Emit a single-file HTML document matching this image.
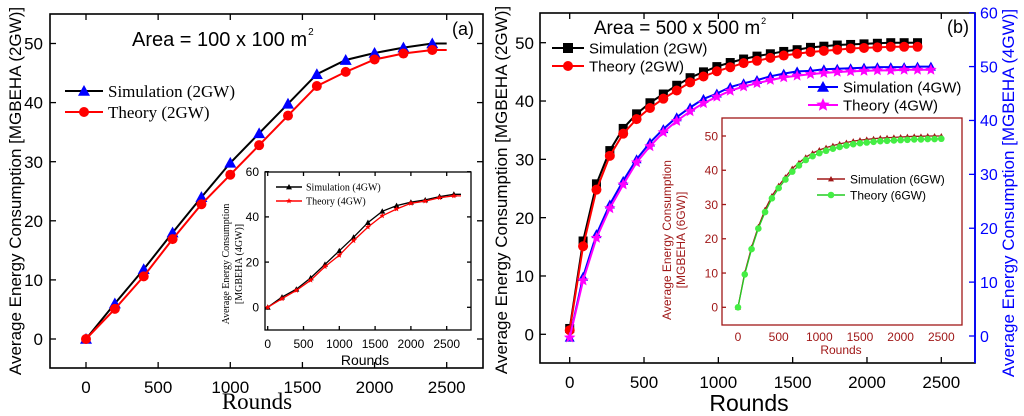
<!DOCTYPE html>
<html><head><meta charset="utf-8"><style>
body{margin:0;background:#fff}
svg{display:block}
text{font-family:"Liberation Sans",sans-serif}
.serif{font-family:"Liberation Serif",serif}
</style></head><body>
<svg id="chart" width="1024" height="416" viewBox="0 0 1024 416" xmlns="http://www.w3.org/2000/svg"></svg>
<script>
// ---- Panel (a) main data ----
const aRounds = [0,200,400,600,800,1000,1200,1400,1600,1800,2000,2200,2400];
const aSim2 = [0,6,11.8,18,24,29.8,34.8,39.8,44.8,47.2,48.4,49.3,50];
const aThe2 = [0,5.1,10.6,16.9,22.8,27.8,32.8,37.8,42.8,45.2,47.3,48.3,48.9];
const aXTicks = [0,500,1000,1500,2000,2500];
const aYTicks = [0,10,20,30,40,50];
// ---- Panel (a) inset data ----
const aiRounds = [0,200,400,600,800,1000,1200,1400,1600,1800,2000,2200,2400,2600];
const aiSim4 = [0,4.5,8,13,19,25,31,37.5,42.5,45,46.5,47.5,49,50];
const aiThe4 = [0,3.8,7.5,12,18,23,29.5,35.5,40.5,43.5,46,47,48.5,49.3];
const aiYTicks = [0,20,40,60];
// ---- Panel (b) main data ----
const bRounds2 = [0,90,180,270,360,450,540,630,720,810,900,990,1080,1170,1260,1350,1440,1530,1620,1710,1800,1890,1980,2070,2160,2250,2340];
const bSim2 = [1,16,25.8,31.5,35.3,37.8,39.7,41.2,42.7,44,45,45.9,46.6,47.2,47.7,48.1,48.5,48.8,49.2,49.4,49.6,49.7,49.8,49.9,50,50,50];
const bThe2 = [0.7,15.1,24.8,30.6,34.4,36.9,38.8,40.4,41.8,43.2,44.2,45.1,45.8,46.5,46.9,47.4,47.8,48.1,48.4,48.6,48.8,49,49.1,49.2,49.3,49.3,49.3];
const bRounds4 = [0,90,180,270,360,450,540,630,720,810,900,990,1080,1170,1260,1350,1440,1530,1620,1710,1800,1890,1980,2070,2160,2250,2340,2430];
const bSim4 = [-0.3,11,18.9,24.4,28.8,32.8,35.9,38.4,40.6,42.4,44,45,46.2,46.9,47.5,48.2,48.7,49.1,49.2,49.5,49.6,49.7,49.8,49.9,49.9,49.9,50,50];
const bThe4 = [-0.3,10.3,18.2,23.7,28.1,32.2,35.2,37.8,39.9,41.7,43.2,44.4,45.5,46.3,46.9,47.5,48,48.3,48.6,48.8,49,49.1,49.2,49.3,49.3,49.4,49.4,49.4];
const bRightTicks = [0,10,20,30,40,50,60];
// ---- Panel (b) inset data ----
const biRounds = [0,83,167,250,333,417,500,583,667,750,833,917,1000,1083,1167,1250,1333,1417,1500,1583,1667,1750,1833,1917,2000,2083,2167,2250,2333,2417,2500];
const biSim6 = [0,10,17.5,23.5,28.5,32.5,35.5,38,40.5,42.2,43.8,45,45.9,46.6,47.2,47.7,48.1,48.5,48.8,49,49.2,49.4,49.5,49.6,49.7,49.8,49.9,49.9,50,50,50];
const biThe6 = [0,9.6,17,23,27.8,31.8,34.8,37.3,39.6,41.4,43,44.1,45,45.7,46.3,46.8,47.2,47.6,47.9,48.1,48.3,48.5,48.6,48.7,48.8,48.9,49,49,49.1,49.1,49.2];
const biYTicks = [0,10,20,30,40,50];

const svg = document.getElementById('chart');
const NS = 'http://www.w3.org/2000/svg';
function mk(tag, attrs, parent, txt){
  const e = document.createElementNS(NS, tag);
  for (const k in attrs) e.setAttribute(k, attrs[k]);
  if (txt !== undefined) e.textContent = txt;
  (parent||svg).appendChild(e);
  return e;
}
function lin(d0,d1,r0,r1){return v=>r0+(v-d0)*(r1-r0)/(d1-d0);}

function marker(g, type, x, y, color, s){
  let e;
  if (type==='tri') e = mk('polygon',{points:`${x},${y-s} ${x-s},${y+s*0.8} ${x+s},${y+s*0.8}`,fill:color},g);
  else if (type==='circ') e = mk('circle',{cx:x,cy:y,r:s,fill:color},g);
  else if (type==='sq') e = mk('rect',{x:x-s,y:y-s,width:2*s,height:2*s,fill:color},g);
  else if (type==='star'){
    let p=[];for(let i=0;i<10;i++){const r=i%2?s*0.45:s;const a=-Math.PI/2+i*Math.PI/5;p.push((x+r*Math.cos(a)).toFixed(1)+','+(y+r*Math.sin(a)).toFixed(1));}
    e = mk('polygon',{points:p.join(' '),fill:color},g);
  }
  
  
}
function series(name, xs, ys, sx, sy, lineColor, mType, mColor, ms, lw, extendTo){
  const g = mk('g',{});
  
  
  let pts = xs.map((v,i)=>sx(v).toFixed(1)+','+sy(ys[i]).toFixed(1));
  if (extendTo!==undefined) pts.push(sx(extendTo).toFixed(1)+','+sy(ys[ys.length-1]).toFixed(1));
  const l = mk('polyline',{points:pts.join(' '),fill:'none',stroke:lineColor,'stroke-width':lw},g);
  
  
  xs.forEach((v,i)=>marker(g,mType,sx(v),sy(ys[i]),mColor,ms));
}
function frame(x0,y0,x1,y1,color,w,name){
  const r = mk('rect',{x:x0,y:y0,width:x1-x0,height:y1-y0,fill:'#fff',stroke:color,'stroke-width':w});
  
  
}
function xAxis(ticks, sx, yb, ytop, ly, fs, color, cls, name, tl){
  const g = mk('g',{});
  
  
  ticks.forEach(t=>{
    const x = sx(t);
    mk('line',{x1:x,y1:yb,x2:x,y2:yb-tl,stroke:color,'stroke-width':1.3},g);
    mk('line',{x1:x,y1:ytop,x2:x,y2:ytop+tl,stroke:color,'stroke-width':1.3},g);
    const lb = mk('text',{x:x,y:ly,'font-size':fs,'text-anchor':'middle',fill:color,class:cls||''},g,t);
    
    
  });
}
function yAxis(ticks, sy, xl, xr, lx, fs, color, name, tl, anchor, both){
  const g = mk('g',{});
  
  
  ticks.forEach(t=>{
    const y = sy(t);
    mk('line',{x1:xl,y1:y,x2:xl+tl,y2:y,stroke:color,'stroke-width':1.3},g);
    if (both) mk('line',{x1:xr,y1:y,x2:xr-tl,y2:y,stroke:color,'stroke-width':1.3},g);
    const lb = mk('text',{x:lx,y:y+fs*0.36,'font-size':fs,'text-anchor':anchor||'end',fill:color},g,t);
    
    
  });
}
function text(name,x,y,fs,str,opts){
  const a = Object.assign({x:x,y:y,'font-size':fs},opts||{});
  const t = mk('text',a,svg,str);
  
  
  return t;
}
function legend(name,x0,x1,y,color,mType,mColor,ms,tx,label,fs,cls,lw){
  const g = mk('g',{});
  
  
  mk('line',{x1:x0,y1:y,x2:x1,y2:y,stroke:color,'stroke-width':lw||2},g);
  marker(g,mType,(x0+x1)/2,y,mColor,ms);
  mk('text',{x:tx,y:y+fs*0.36,'font-size':fs,class:cls||''},g,label);
}

// ================= Panel (a) =================
const aX = lin(0,2500,86,446.7), aY = lin(0,50,339,43.5);
frame(50,14,483,368,'#000',1.6,'panel-a-frame');
xAxis(aXTicks,aX,368,14,393,17,'#000','','panel-a-x-axis',6);
yAxis(aYTicks,aY,50,483,43,17,'#000','panel-a-y-axis',6,'end',true);
series('series-a-simulation-2gw',aRounds,aSim2,aX,aY,'#000','tri','#0000ff',6,2,2500);
series('series-a-theory-2gw',aRounds,aThe2,aX,aY,'#ff0000','circ','#ff0000',5,2,2500);
const at = text('panel-a-area-label',132,46,20,'Area = 100 x 100 m');
text('panel-a-area-sup',132+at.getComputedTextLength()+1,35,10,'2');
text('panel-a-label',452,35,18,'(a)');
legend('legend-a-simulation',65,103,91,'#000','tri','#0000ff',6,108,'Simulation (2GW)',17,'serif');
legend('legend-a-theory',65,103,112,'#ff0000','circ','#ff0000',5,108,'Theory (2GW)',17,'serif');
text('panel-a-y-title',0,0,17,'Average Energy Consumption [MGBEHA (2GW)]',{transform:'translate(21,191) rotate(-90)','text-anchor':'middle'});
text('panel-a-x-title',257,409,23,'Rounds',{'text-anchor':'middle',class:'serif'});

// inset a
const aiX = lin(0,2500,267.7,446.7), aiY = lin(0,60,307.3,171.7);
frame(265,172,471,330,'#000',1.3,'inset-a-frame');
xAxis(aXTicks,aiX,330,172,348,12,'#000','','inset-a-x-axis',4);
yAxis(aiYTicks,aiY,265,471,259,12,'#000','inset-a-y-axis',4,'end',true);
series('series-inset-a-simulation-4gw',aiRounds,aiSim4,aiX,aiY,'#000','tri','#000',3,1.3,2700);
series('series-inset-a-theory-4gw',aiRounds,aiThe4,aiX,aiY,'#ff0000','star','#ff0000',3,1.3,2700);
legend('legend-inset-a-simulation',276,302,187,'#000','tri','#000',3,306,'Simulation (4GW)',10,'serif',1.5);
legend('legend-inset-a-theory',276,302,201,'#ff0000','star','#ff0000',3,306,'Theory (4GW)',10,'serif',1.5);
text('inset-a-y-title-1',0,0,10,'Average Energy Consumption',{transform:'translate(229,264) rotate(-90)','text-anchor':'middle',class:'serif'});
text('inset-a-y-title-2',0,0,10,'[MGBEHA (4GW)]',{transform:'translate(242,264) rotate(-90)','text-anchor':'middle',class:'serif'});
text('inset-a-x-title',365,365,14,'Rounds',{'text-anchor':'middle'});

// ================= Panel (b) =================
const bX = lin(0,2500,569.7,941.3), bY = lin(0,50,334.3,42.7), bYR = lin(0,60,336,12.7);
frame(540,13,975,363,'#000',1.6,'panel-b-frame');
mk('line',{x1:975,y1:13,x2:975,y2:363,stroke:'#0000ff','stroke-width':1.8});
xAxis(aXTicks,bX,363,13,388,17,'#000','','panel-b-x-axis',6);
yAxis(aYTicks,bY,540,975,534,17,'#000','panel-b-y-axis',6,'end',false);
yAxis(bRightTicks,bYR,975-0.01,975,980,16,'#0000ff','panel-b-right-y-axis',-6,'start',false);
series('series-b-simulation-2gw',bRounds2,bSim2,bX,bY,'#000','sq','#000',4.5,2,2340);
series('series-b-theory-2gw',bRounds2,bThe2,bX,bY,'#ff0000','circ','#ff0000',5,2,2340);
series('series-b-simulation-4gw',bRounds4,bSim4,bX,bYR,'#0000ff','tri','#0000ff',5,2,2430);
series('series-b-theory-4gw',bRounds4,bThe4,bX,bYR,'#ff00ff','star','#ff00ff',6,2,2430);
const bt = text('panel-b-area-label',677,34,19,'Area = 500 x 500 m',{'text-anchor':'middle'});
text('panel-b-area-sup',677+bt.getComputedTextLength()/2+1,24,9,'2');
text('panel-b-label',947,33,18,'(b)');
legend('legend-b-simulation-2gw',552,584,48,'#000','sq','#000',5,589,'Simulation (2GW)',15);
legend('legend-b-theory-2gw',552,584,66,'#ff0000','circ','#ff0000',5,589,'Theory (2GW)',15);
legend('legend-b-simulation-4gw',808,838,87,'#0000ff','tri','#0000ff',6,843,'Simulation (4GW)',15);
legend('legend-b-theory-4gw',808,838,105,'#ff00ff','star','#ff00ff',7,843,'Theory (4GW)',15);
text('panel-b-y-title',0,0,17,'Average Energy Consumption [MGBEHA (2GW)]',{transform:'translate(507,190) rotate(-90)','text-anchor':'middle'});
text('panel-b-right-y-title',0,0,17,'Average Energy Consumption [MGBEHA (4GW)]',{transform:'translate(1014,193) rotate(-90)','text-anchor':'middle',fill:'#0000ff'});
text('panel-b-x-title',749,411,23,'Rounds',{'text-anchor':'middle'});

// inset b
const dr = '#a01818';
const biX = lin(0,2500,738,941.3), biY = lin(0,50,307.3,136);
frame(722,118,962,325,dr,1.3,'inset-b-frame');
xAxis(aXTicks,biX,325,118,341,12,dr,'','inset-b-x-axis',0);
yAxis(biYTicks,biY,722,962,718,12,dr,'inset-b-y-axis',4,'end',false);
series('series-inset-b-simulation-6gw',biRounds,biSim6,biX,biY,dr,'tri',dr,3,1.3);
series('series-inset-b-theory-6gw',biRounds,biThe6,biX,biY,'#22cc22','circ','#44ee44',3.3,1.3);
legend('legend-inset-b-simulation',817,845,179,dr,'tri',dr,3,850,'Simulation (6GW)',12,'',1.5);
legend('legend-inset-b-theory',817,845,195,'#22cc22','circ','#44ee44',3.3,850,'Theory (6GW)',12,'',1.5);
text('inset-b-y-title-1',0,0,12,'Average Energy Consumption',{transform:'translate(671,240) rotate(-90)','text-anchor':'middle',fill:dr});
text('inset-b-y-title-2',0,0,12,'[MGBEHA (6GW)]',{transform:'translate(685,240) rotate(-90)','text-anchor':'middle',fill:dr});
text('inset-b-x-title',841,354,12,'Rounds',{'text-anchor':'middle',fill:dr});
</script>
</body></html>
